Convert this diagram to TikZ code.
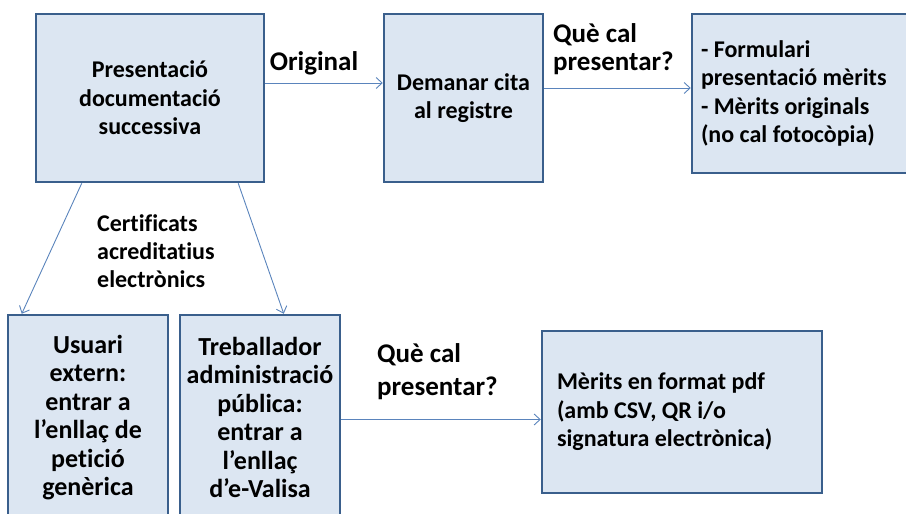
\documentclass[tikz,border=0pt]{standalone}
\usepackage{fontspec}
\setmainfont{Carlito}[Ligatures=NoCommon]
\usetikzlibrary{arrows.meta}

\definecolor{boxfill}{HTML}{DCE6F2}
\definecolor{boxline}{HTML}{3A5F8C}
\definecolor{linkline}{HTML}{5A84BC}

\begin{document}
\begin{tikzpicture}[x=1pt, y=-1pt,
    box/.style={draw=boxline, fill=boxfill, line width=2.5pt, inner sep=0pt,
      align=center, font=\fontsize{24}{28.5}\selectfont\bfseries},
    tall/.style={box, minimum width=160, minimum height=205, font=\fontsize{26}{28.5}\selectfont\bfseries},
    lbl/.style={inner sep=0pt, align=flush left, font=\fontsize{27}{28}\selectfont\bfseries},
    link/.style={linkline, line width=0.9pt, -{Straight Barb[length=6pt, width=11pt]}}]
      \useasboundingbox (0,0) rectangle (906,514);
      \clip (0,0) rectangle (906,514);
      \node[box, minimum width=228, minimum height=168] (pres) at (150,98) {Presentació\\documentació\\successiva};
      \node[box, minimum width=159, minimum height=168] (reg) at (463.5,98) {Demanar cita\\al registre};
      \node[box, minimum width=216, minimum height=159, text width=198, align=flush left] (orig) at (800,93.5)
        {- Formulari\\presentació mèrits\\- Mèrits originals\\(no cal fotocòpia)};
      \node[tall] (user) at (88,417.5)
        {Usuari\\extern:\\entrar a\\l’enllaç de\\petició\\genèrica};
      \node[tall] (worker) at (260,417.5)
        {Treballador\\administració\\pública:\\entrar a\\l’enllaç\\d’e-Valisa};
      \node[box, minimum width=280, minimum height=162, text width=250, align=flush left] (pdf) at (682,412)
        {Mèrits en format pdf\\(amb CSV, QR i/o\\signatura electrònica)};
      \node[lbl] (original) at (314,63) {Original};
      \node[lbl, anchor=west] (ask1) at (553,49) {Què cal\\presentar?};
      \node[lbl, anchor=west, font=\fontsize{24}{28}\selectfont\bfseries] (cert) at (97,251) {Certificats\\acreditatius\\electrònics};
      \node[lbl, anchor=west, font=\fontsize{27}{33}\selectfont\bfseries] (ask2) at (377,372) {Què cal\\presentar?};
      \draw[link] ([yshift=15]pres.east) -- ([yshift=15]pres.east -| reg.west);
      \draw[link] ([yshift=10]reg.east) -- ([yshift=10]reg.east -| orig.west);
      \draw[link] ([xshift=47]pres.south west) -- ([xshift=15]user.north west);
      \draw[link] ([xshift=-27]pres.south east) -- ([xshift=105]worker.north west);
      \draw[link] ([yshift=-2]worker.east) -- ([yshift=-2]worker.east -| pdf.west);
\end{tikzpicture}
\end{document}
